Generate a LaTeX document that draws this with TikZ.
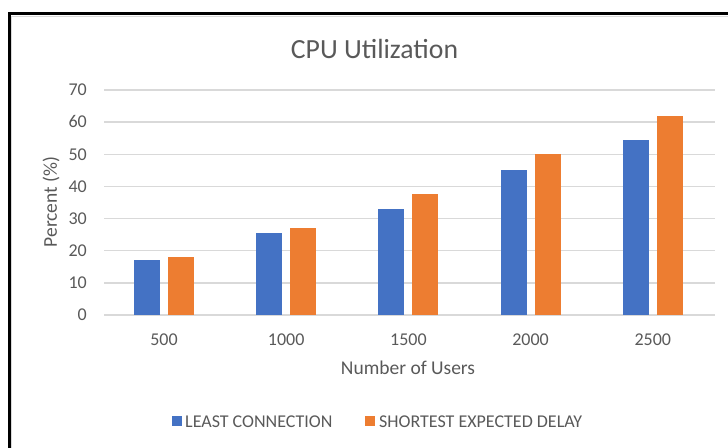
\documentclass[tikz,border=0pt]{standalone}
\usepackage{fontspec}
\setmainfont{Carlito}
\definecolor{txtgray}{HTML}{595959}
\definecolor{gridgray}{HTML}{D9D9D9}
\definecolor{barblue}{HTML}{4472C4}
\definecolor{barorange}{HTML}{ED7D31}
\tikzset{
  ticklabel/.style={text=txtgray, inner sep=0pt, font=\fontsize{18}{20}\selectfont},
  axistitle/.style={text=txtgray, inner sep=0pt, font=\fontsize{19.5}{22}\selectfont},
  legendtext/.style={text=txtgray, inner sep=0pt, font=\fontsize{18}{20}\selectfont, anchor=base west},
  gridline/.style={draw=gridgray, line width=1.4pt},
  lcbar/.style={fill=barblue, draw=none},
  sedbar/.style={fill=barorange, draw=none},
}
\begin{document}
\begin{tikzpicture}[x=1pt, y=-1pt]
  \useasboundingbox (0,0) rectangle (728,447);
  \clip (0,0) rectangle (728,447);
  % outer frame, running off the right and bottom edges
  \draw[line width=3pt, black] (9.5,13.5) rectangle (760,480);
  \draw[gridgray, line width=0.8pt] (12,16.2) -- (760,16.2);
  \draw[gridgray, line width=0.8pt] (11.8,16) -- (11.8,480);

  % title
  \node[text=txtgray, inner sep=0pt, font=\fontsize{27.7}{30}\selectfont, anchor=base]
    (title) at (374.5,58) {CPU Utilization};

  % horizontal grid and value labels
  \foreach \v [count=\k from 0] in {0,10,...,70} {
    \draw[gridline] (104,{315-32.14*\k}) -- (715,{315-32.14*\k});
    \node[ticklabel, anchor=base east] (tick\v) at (87,{315-32.14*\k+5.8}) {\v};
  }

  % bars: least connection / shortest expected delay
  \foreach \cat/\lc/\sed [count=\i from 0] in
      {500/17/18, 1000/25.4/27, 1500/33/37.5, 2000/45.1/50, 2500/54.5/62} {
    \pgfmathsetmacro{\c}{164+122.2*\i}
    \fill[lcbar]  ({\c-30},315) rectangle ({\c-4},{315-3.214*\lc});
    \fill[sedbar] ({\c+4},315) rectangle ({\c+30},{315-3.214*\sed});
    \node[ticklabel, anchor=base] (cat\cat) at (\c,345) {\cat};
  }

  % axis titles
  \node[axistitle, anchor=base] (xtitle) at (408,374) {Number of Users};
  \node[axistitle, rotate=90] (ytitle) at (51,202) {Percent (\%)};

  % legend
  \fill[lcbar] (172,416) rectangle (181.5,425.5);
  \node[legendtext] (leg1) at (185,427) {LEAST CONNECTION};
  \fill[sedbar] (365,416) rectangle (374.5,425.5);
  \node[legendtext] (leg2) at (379,427) {SHORTEST EXPECTED DELAY};
\end{tikzpicture}
\end{document}
